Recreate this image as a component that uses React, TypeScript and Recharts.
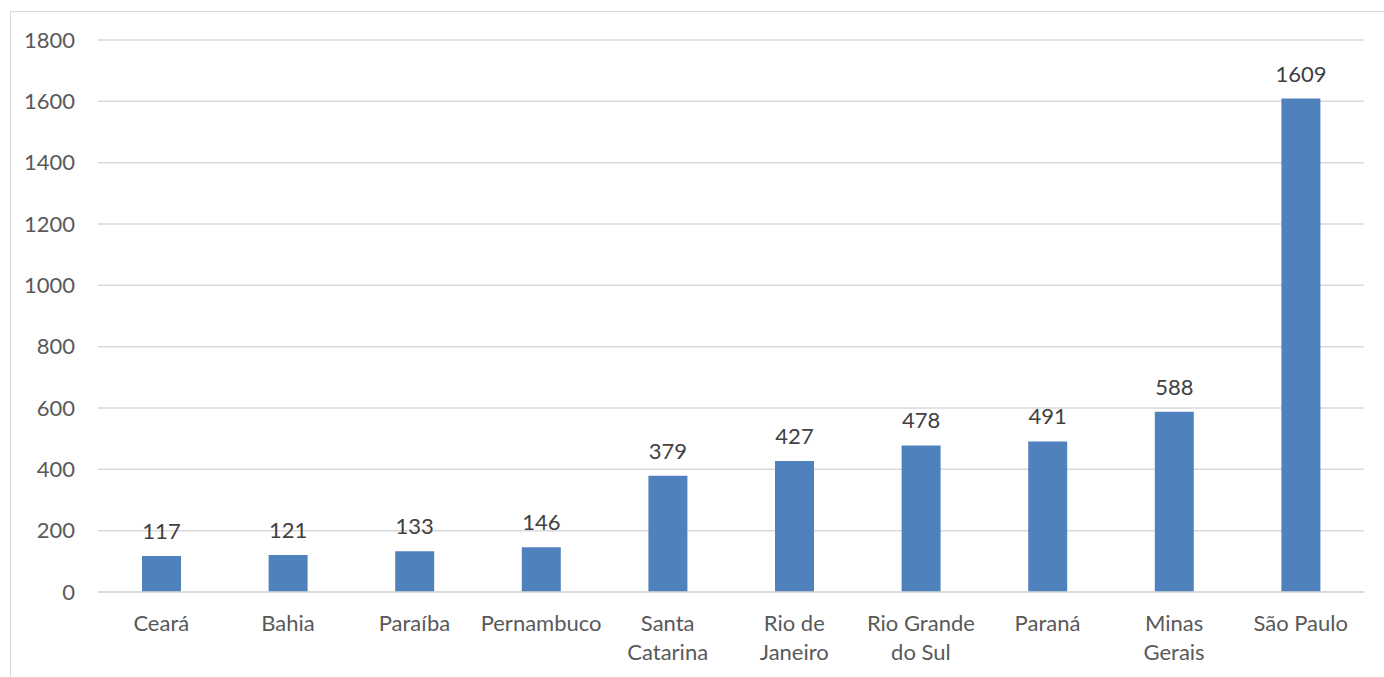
import React from "react";
import { BarChart, Bar, XAxis, YAxis, CartesianGrid, LabelList } from "recharts";

const categories = [
  "Ceará",
  "Bahia",
  "Paraíba",
  "Pernambuco",
  "Santa\nCatarina",
  "Rio de\nJaneiro",
  "Rio Grande\ndo Sul",
  "Paraná",
  "Minas\nGerais",
  "São Paulo",
];
const values = [117, 121, 133, 146, 379, 427, 478, 491, 588, 1609];
const yTicks = [0, 200, 400, 600, 800, 1000, 1200, 1400, 1600, 1800];

const data = categories.map((c, i) => ({ name: c, value: values[i] }));

const FONT = "Lato, 'Open Sans', sans-serif";

const XTick = (props: any) => {
  const { x, y, payload } = props;
  const lines = String(payload.value).split("\n");
  return (
    <text
      x={x}
      y={y}
      textAnchor="middle"
      fill="#595959"
      fontSize={22}
      fontFamily={FONT}
    >
      {lines.map((l, i) => (
        <tspan key={i} x={x} dy={i === 0 ? 31 : 29}>
          {l}
        </tspan>
      ))}
    </text>
  );
};

export default function App() {
  return (
    <div style={{ position: "absolute", left: 0, top: 0, width: 1384, height: 677, background: "#fff", overflow: "hidden" }}>
      <div
        style={{
          position: "absolute",
          left: 10,
          top: 11,
          width: 1400,
          height: 700,
          borderLeft: "1px solid #d9d9d9",
          borderTop: "1px solid #d9d9d9",
        }}
      />
      <div style={{ position: "absolute", left: 0, top: 0 }}>
        <BarChart
          width={1384}
          height={677}
          data={data}
          margin={{ top: 40, right: 20, bottom: 0, left: 0 }}
          barSize={39}
        >
          <CartesianGrid vertical={false} stroke="#d9d9d9" strokeWidth={1.5} />
          <XAxis
            dataKey="name"
            axisLine={{ stroke: "#d9d9d9", strokeWidth: 1.5 }}
            tickLine={false}
            tick={<XTick />}
            interval={0}
            height={85}
          />
          <YAxis
            domain={[0, 1800]}
            ticks={yTicks}
            axisLine={false}
            tickLine={false}
            tickSize={0}
            tickMargin={23}
            width={98}
            tick={{ fill: "#595959", fontSize: 22, fontFamily: FONT }}
          />
          <Bar dataKey="value" fill="#4F81BD" isAnimationActive={false}>
            <LabelList
              dataKey="value"
              position="top"
              offset={17}
              fill="#404040"
              fontSize={22}
              fontFamily={FONT}
            />
          </Bar>
        </BarChart>
      </div>
    </div>
  );
}
